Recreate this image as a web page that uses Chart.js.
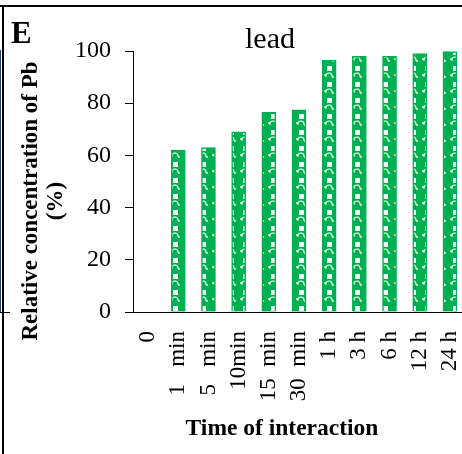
<!DOCTYPE html>
<html>
<head>
<meta charset="utf-8">
<script src="https://cdn.jsdelivr.net/npm/chart.js@4/dist/chart.umd.min.js"></script>
<style>
  html, body { margin: 0; padding: 0; background: #fff; overflow: hidden; }
  #wrap { position: relative; width: 462px; height: 454px; overflow: hidden; }
  canvas { display: block; }
</style>
</head>
<body>
<div id="wrap"><canvas id="c" width="470" height="454"></canvas></div>
<script>
// ---- data ----
const categories = ["0", "1   min", "5   min", "10min", "15  min", "30  min", "1 h", "3 h", "6 h", "12 h", "24 h"];
const leadValues = [0, 62, 63, 69, 76.5, 77.5, 96.5, 98, 98, 99, 99.8];
const yTickValues = [0, 20, 40, 60, 80, 100];
const panelLetter = "E";
const chartTitle = "lead";
const yTitleLines = ["Relative concentration of Pb", "(%)"];
const xTitle = "Time of interaction";

const SERIF = "'Liberation Serif', 'Times New Roman', serif";
const GREEN = "#00B050";

// pattern fill approximating the Excel textured fill
function makePattern() {
  const p = document.createElement("canvas");
  p.width = 14; p.height = 16;
  const g = p.getContext("2d");
  g.fillStyle = GREEN; g.fillRect(0, 0, 14, 16);
  g.fillStyle = "#ffffff";
  g.fillRect(5, 2, 5, 5);
  g.strokeStyle = "#e8fff0"; g.lineWidth = 1.2;
  g.beginPath(); g.arc(7, 12, 3, Math.PI * 0.1, Math.PI * 0.9, true); g.stroke();
  g.fillStyle = "rgba(255,255,255,0.7)";
  g.fillRect(2, 10, 2, 2);
  g.fillRect(10, 12, 2, 2);
  return g.createPattern(p, "repeat");
}

const decor = {
  id: "decor",
  afterDraw(chart) {
    const ctx = chart.ctx;
    ctx.save();
    // frame remnants
    ctx.fillStyle = "#000";
    ctx.fillRect(0, 5, 470, 2);
    ctx.fillRect(2, 5, 2, 449);
    ctx.fillStyle = "#1f3d6e";
    ctx.fillRect(0, 50, 1, 262);
    ctx.strokeStyle = "#000"; ctx.lineWidth = 1;
    ctx.beginPath(); ctx.moveTo(0, 312.5); ctx.lineTo(10, 312.5); ctx.stroke();

    ctx.fillStyle = "#000";
    // panel letter
    ctx.font = "bold 31px " + SERIF;
    ctx.textAlign = "left"; ctx.textBaseline = "alphabetic";
    ctx.fillText(panelLetter, 11, 43);
    // title
    ctx.font = "30px " + SERIF;
    ctx.textAlign = "center";
    ctx.fillText(chartTitle, 270, 48);
    // x title
    ctx.font = "bold 23.5px " + SERIF;
    ctx.fillText(xTitle, 282, 435);
    // y title
    ctx.save();
    ctx.translate(0, 201);
    ctx.rotate(-Math.PI / 2);
    ctx.font = "bold 23px " + SERIF;
    ctx.textAlign = "center";
    ctx.fillText(yTitleLines[0], 0, 37);
    ctx.fillText(yTitleLines[1], 0, 62);
    ctx.restore();
    ctx.restore();
  }
};

new Chart(document.getElementById("c"), {
  type: "bar",
  data: {
    labels: categories,
    datasets: [{
      data: leadValues,
      backgroundColor: makePattern(),
      borderColor: GREEN,
      borderWidth: 1.5,
      barThickness: 14
    }]
  },
  options: {
    responsive: false,
    animation: false,
    devicePixelRatio: 1,
    layout: { padding: { top: 51, right: 5, left: 0, bottom: 0 } },
    plugins: { legend: { display: false }, tooltip: { enabled: false }, title: { display: false } },
    scales: {
      x: {
        grid: { display: false, drawTicks: false },
        border: { display: true, color: "#000", width: 1 },
        ticks: {
          color: "#000",
          font: { family: SERIF, size: 23 },
          minRotation: 90, maxRotation: 90,
          autoSkip: false,
          padding: 19
        },
        afterFit(scale) {
          scale.height = 454 - 312;
          scale.paddingLeft = 0;
          scale.paddingRight = 0;
        }
      },
      y: {
        min: 0, max: 100,
        afterBuildTicks(scale) { scale.ticks = yTickValues.map(v => ({ value: v })); },
        grid: { drawOnChartArea: false, drawTicks: true, tickLength: 8, color: "#000" },
        border: { display: true, color: "#000", width: 1 },
        ticks: {
          color: "#000",
          font: { family: SERIF, size: 24 },
          padding: 14
        },
        afterFit(scale) {
          scale.width = 133;
          scale.paddingTop = 0;
          scale.paddingBottom = 0;
        }
      }
    }
  },
  plugins: [decor]
});
</script>
</body>
</html>
